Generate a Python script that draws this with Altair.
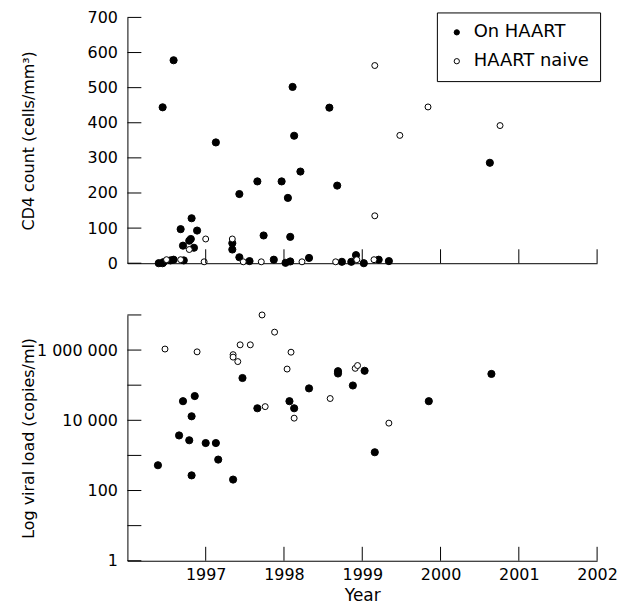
import altair as alt
import pandas as pd

# ---- Data ----
groups = ["On HAART", "HAART naive"]

# Top panel: CD4 count (cells/mm3)
on_cd4_year = [1996.40, 1996.45, 1996.46, 1996.45, 1996.59, 1996.55, 1996.59, 1996.68, 1996.71,
               1996.72, 1996.79, 1996.81, 1996.82, 1996.85, 1996.89, 1997.13, 1997.34, 1997.34,
               1997.43, 1997.43, 1997.56, 1997.66, 1997.74, 1997.87, 1997.97, 1998.05, 1998.11,
               1998.08, 1998.13, 1998.02, 1998.08, 1998.21, 1998.32, 1998.58, 1998.68, 1998.74,
               1998.86, 1998.92, 1999.02, 1999.21, 1999.34, 2000.63]
on_cd4_val = [0, 0, 3, 444, 578, 8, 10, 97, 50,
              8, 64, 69, 128, 44, 93, 344, 57, 39,
              197, 17, 6, 233, 79, 10, 233, 186, 502,
              75, 363, 1, 5, 261, 15, 443, 221, 4,
              4, 23, 0, 10, 6, 286]
naive_cd4_year = [1996.50, 1996.68, 1996.79, 1997.00, 1996.98, 1997.34, 1997.48, 1997.71, 1998.23,
                  1998.66, 1998.93, 1999.16, 1999.84, 1999.48, 2000.76, 1999.16, 1999.15]
naive_cd4_val = [10, 10, 39, 69, 4, 69, 4, 4, 4,
                 4, 10, 563, 445, 364, 392, 135, 10]

# Bottom panel: viral load (copies/ml)
on_vl_year = [1996.39, 1996.66, 1996.71, 1996.79, 1996.82, 1996.86, 1996.82, 1997.00, 1997.13,
              1997.16, 1997.35, 1997.47, 1997.66, 1998.07, 1998.13, 1998.32, 1998.69, 1998.69,
              1998.88, 1999.03, 1999.85, 1999.16, 2000.65]
on_vl_val = [525, 3700, 35000, 2700, 13000, 49000, 270, 2250, 2250,
             760, 205, 160000, 22000, 35000, 22000, 81000, 250000, 215000,
             98000, 257000, 35000, 1230, 209000]
naive_vl_year = [1996.48, 1996.89, 1997.35, 1997.35, 1997.41, 1997.44, 1997.57, 1997.72, 1997.76,
                 1997.88, 1998.04, 1998.09, 1998.13, 1998.59, 1998.91, 1998.94, 1999.34]
naive_vl_val = [1070000, 890000, 740000, 630000, 470000, 1410000, 1410000, 10000000, 24500,
                3240000, 288000, 870000, 11500, 41700, 302000, 363000, 8300]

year_ticks = [1997, 1998, 1999, 2000, 2001, 2002]
cd4_ticks = [0, 100, 200, 300, 400, 500, 600, 700]
vl_ticks = [1, 10, 100, 1000, 10000, 100000, 1000000, 10000000]
vl_labels = [1, 100, 10000, 1000000]

# ---- Frames ----
cd4_df = pd.DataFrame({
    "year": on_cd4_year + naive_cd4_year,
    "value": on_cd4_val + naive_cd4_val,
    "group": [groups[0]] * len(on_cd4_year) + [groups[1]] * len(naive_cd4_year),
})
vl_df = pd.DataFrame({
    "year": on_vl_year + naive_vl_year,
    "value": on_vl_val + naive_vl_val,
    "group": [groups[0]] * len(on_vl_year) + [groups[1]] * len(naive_vl_year),
})
xt_df = pd.DataFrame({"year": year_ticks})
cd4t_df = pd.DataFrame({"value": cd4_ticks})
vlt_df = pd.DataFrame({"value": vl_ticks})

W, H = 472, 247
TICK = 14
FONT = "DejaVu Sans"

xscale = alt.Scale(domain=[1996, 2002], nice=False, zero=False)

x_top_axis = alt.Axis(labels=False, ticks=False, grid=False, title=None, domainColor="black")
x_bot_axis = alt.Axis(values=year_ticks, format="d", ticks=False, grid=False, labelPadding=6,
                      labelFlush=False, labelOverlap=False, title="Year", titlePadding=5,
                      titleFontSize=17, domainColor="black")

y_top_axis = alt.Axis(values=cd4_ticks, ticks=False, grid=False, labelPadding=10,
                      title="CD4 count (cells/mm³)", titleX=-94, titleBaseline="alphabetic",
                      domainColor="black")
y_bot_axis = alt.Axis(values=vl_labels, ticks=False, grid=False, labelPadding=10,
                      labelExpr="datum.value == 1000000 ? '1 000 000' : datum.value == 10000 ? '10 000' : format(datum.value, 'd')",
                      title="Log viral load (copies/ml)", titleX=-94, titleBaseline="alphabetic",
                      domainColor="black")

y_top_scale = alt.Scale(domain=[0, 700], nice=False, zero=False)
y_bot_scale = alt.Scale(type="log", domain=[1, 10000000], nice=False)

fill_scale = alt.Scale(domain=groups, range=["black", "white"])

legend = alt.Legend(title=None, orient="none", legendX=311, legendY=-5,
                    labelFontSize=18, labelFont=FONT, labelColor="black",
                    symbolType="circle", symbolSize=28, symbolStrokeColor="black",
                    symbolStrokeWidth=1, symbolOpacity=1,
                    padding=11, rowPadding=11, labelOffset=8,
                    strokeColor="black", fillColor="white")


def points(df, yscale, xaxis, yaxis, leg):
    return alt.Chart(df).mark_point(shape="circle", stroke="black", strokeWidth=1,
                                    opacity=1, fillOpacity=1).encode(
        x=alt.X("year:Q", scale=xscale, axis=xaxis),
        y=alt.Y("value:Q", scale=yscale, axis=yaxis),
        fill=alt.Fill("group:N", scale=fill_scale, legend=leg),
        size=alt.condition(alt.datum.group == groups[0], alt.value(52), alt.value(36)),
    )


def xticks(xaxis):
    return alt.Chart(xt_df).mark_rule(color="black", strokeWidth=1).encode(
        x=alt.X("year:Q", scale=xscale, axis=xaxis),
        y=alt.value(H), y2=alt.value(H - TICK),
    )


def yticks(df, yscale, yaxis):
    return alt.Chart(df).mark_rule(color="black", strokeWidth=1).encode(
        y=alt.Y("value:Q", scale=yscale, axis=yaxis),
        x=alt.value(0), x2=alt.value(TICK),
    )


top = alt.layer(
    points(cd4_df, y_top_scale, x_top_axis, y_top_axis, legend),
    xticks(x_top_axis),
    yticks(cd4t_df, y_top_scale, y_top_axis),
).properties(width=W, height=H)

bottom = alt.layer(
    points(vl_df, y_bot_scale, x_bot_axis, y_bot_axis, None),
    xticks(x_bot_axis),
    yticks(vlt_df, y_bot_scale, y_bot_axis),
).properties(width=W, height=H)

chart = alt.vconcat(top, bottom, spacing=39).resolve_scale(
    fill="independent"
).resolve_legend(fill="independent").properties(
    padding={"left": 12, "top": 0, "right": 0, "bottom": 0}
).configure_view(stroke=None).configure_axis(
    labelFont=FONT, titleFont=FONT, labelFontSize=16, titleFontSize=16,
    labelColor="black", titleColor="black", titleFontWeight="normal",
    domainWidth=1,
)

chart.save("out.html", embed_options={"renderer": "svg", "actions": False})
